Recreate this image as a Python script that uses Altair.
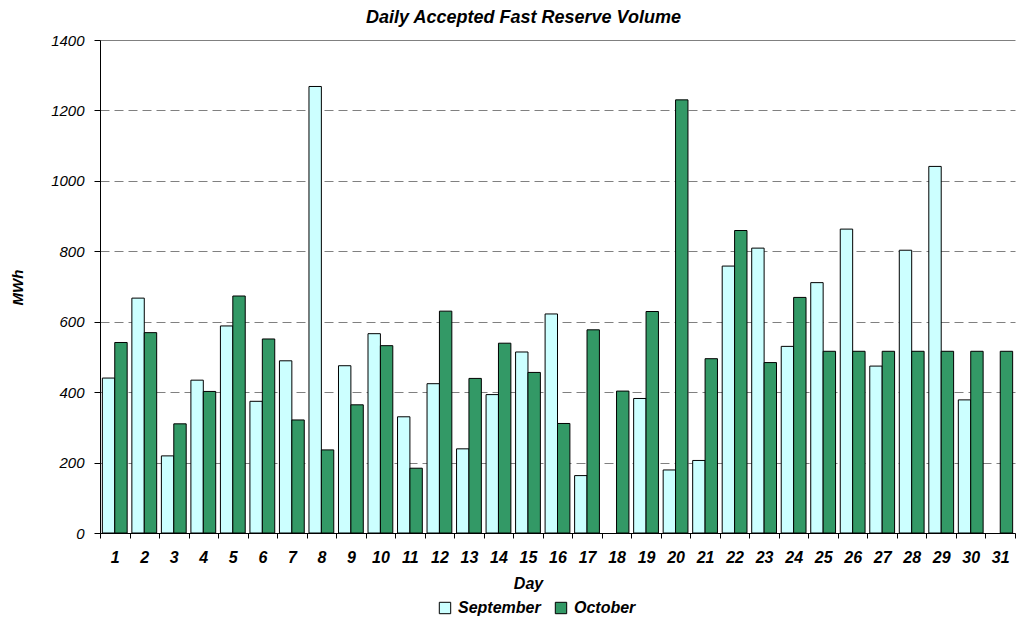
import altair as alt
import pandas as pd

days = list(range(1, 32))
september = [440, 667, 219, 434, 588, 374, 489, 1268, 475, 566, 330, 424, 239, 393, 514, 622,
             163, None, 382, 179, 206, 758, 809, 530, 711, 863, 474, 803, 1041, 378, None]
october = [541, 569, 310, 402, 673, 551, 321, 236, 364, 532, 184, 630, 439, 539, 456, 311,
           577, 403, 629, 1230, 495, 859, 484, 669, 516, 516, 516, 516, 516, 516, 516]
months = ["September", "October"]
colors = ["#CCFFFF", "#339966"]
y_ticks = [0, 200, 400, 600, 800, 1000, 1200, 1400]

rows = []
for d, s, o in zip(days, september, october):
    if s is not None:
        rows.append({"Day": d, "Month": "September", "MWh": s})
    if o is not None:
        rows.append({"Day": d, "Month": "October", "MWh": o})
df = pd.DataFrame(rows)

FONT = "Liberation Sans"

chart = alt.Chart(df).mark_bar(stroke="black", strokeWidth=1).encode(
    x=alt.X("Day:O", scale=alt.Scale(paddingInner=0, paddingOuter=0),
            axis=alt.Axis(title="Day", labelAngle=0, tickBand="extent", tickSize=5,
                          tickColor="black", domainColor="black", labelPadding=11,
                          labelFont=FONT, labelFontSize=16, labelFontStyle="italic",
                          labelFontWeight="bold", labelColor="black",
                          titleFont=FONT, titleFontSize=16, titleFontStyle="italic",
                          titleFontWeight="bold", titleColor="black",
                          titleX=428, titleY=55, titleBaseline="alphabetic")),
    xOffset=alt.XOffset("Month:N", sort=months,
                        scale=alt.Scale(domain=months, paddingInner=0, paddingOuter=0.19)),
    y=alt.Y("MWh:Q", scale=alt.Scale(domain=[0, 1400], nice=False),
            axis=alt.Axis(title="MWh", values=y_ticks, format="d", tickSize=6,
                          tickColor="black", domainColor="black", labelPadding=10,
                          labelFont=FONT, labelFontSize=15, labelFontStyle="italic",
                          labelColor="black",
                          grid=True, gridColor="#808080",
                          gridDash={"condition": {"test": "datum.value === 1400", "value": []},
                                    "value": [9, 5]},
                          titleFont=FONT, titleFontSize=15, titleFontStyle="italic",
                          titleFontWeight="bold", titleColor="black",
                          titleAngle=270, titleX=-78, titleY=247,
                          titleBaseline="alphabetic")),
    color=alt.Color("Month:N", sort=months,
                    scale=alt.Scale(domain=months, range=colors),
                    legend=alt.Legend(title=None, orient="none", direction="horizontal",
                                      legendX=337, legendY=560, padding=0,
                                      symbolType="square", symbolSize=130,
                                      symbolStrokeColor="black", symbolStrokeWidth=1,
                                      labelOffset=5, columnPadding=12,
                                      labelFont=FONT, labelFontSize=16,
                                      labelFontStyle="italic", labelFontWeight="bold",
                                      labelColor="black")),
).properties(
    width=915,
    height=493,
    title=alt.TitleParams("Daily Accepted Fast Reserve Volume", font=FONT, fontSize=18,
                          fontStyle="italic", fontWeight="bold", color="black",
                          dx=-34, offset=6),
    autosize=alt.AutoSizeParams(type="none"),
    padding={"left": 92, "top": 32, "right": 2, "bottom": 84},
).configure_view(stroke=None)

chart.save("out.html", embed_options={"renderer": "svg", "actions": False})
